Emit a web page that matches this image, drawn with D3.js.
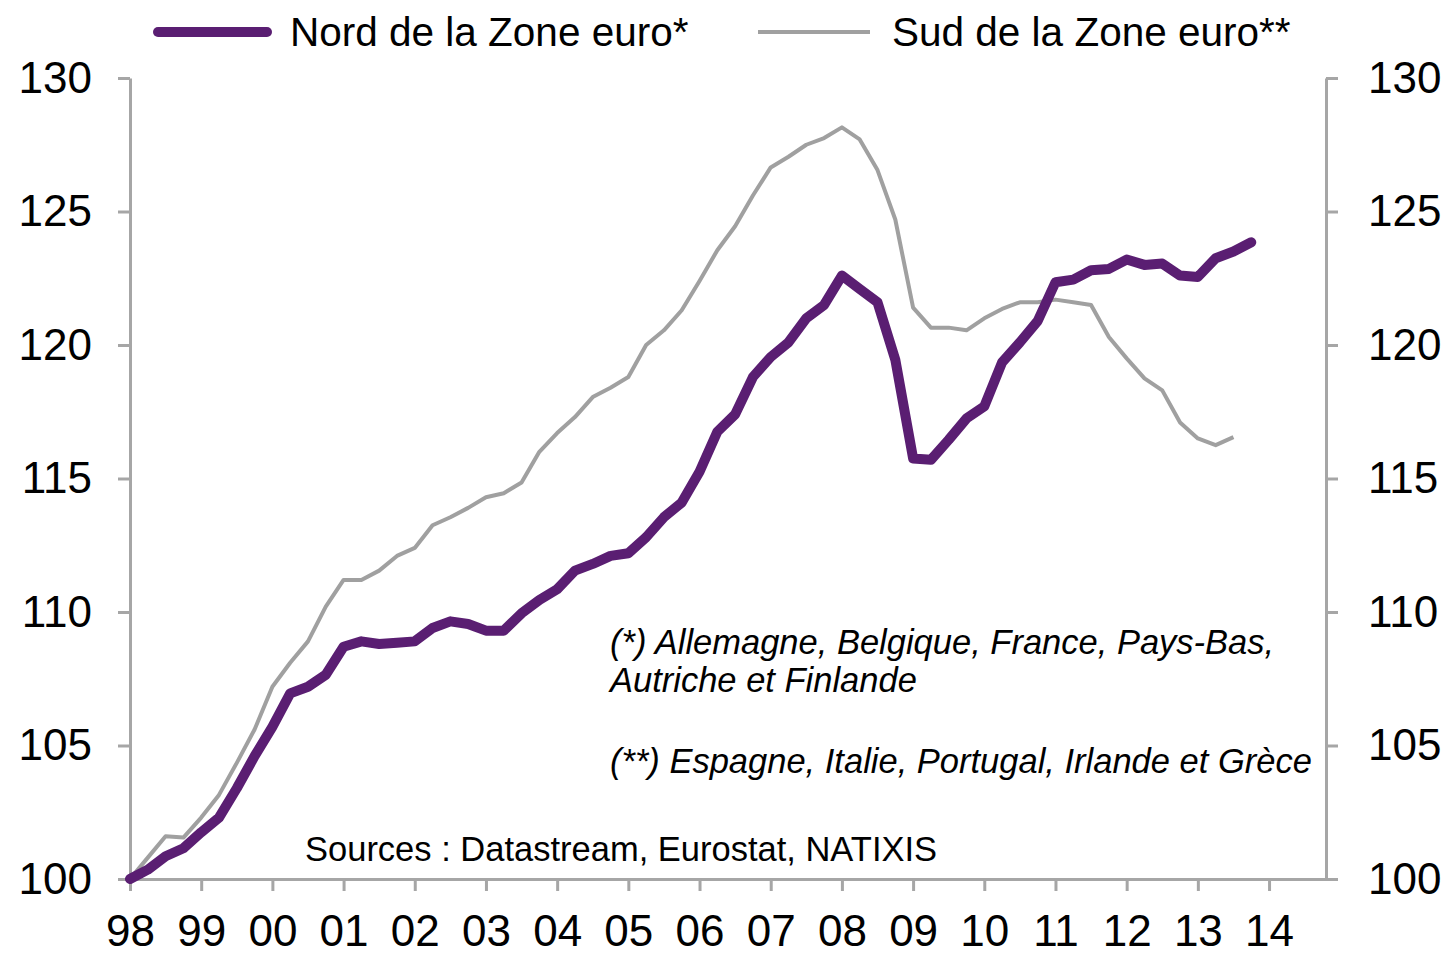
<!DOCTYPE html>
<html>
<head>
<meta charset="utf-8">
<script src="https://cdn.jsdelivr.net/npm/d3@7"></script>
<style>
  body { margin: 0; background: #fff; }
  svg text { font-family: "Liberation Sans", Arial, sans-serif; fill: #000; }
</style>
</head>
<body>
<svg id="chart" width="1448" height="955"></svg>
<script>
const width = 1448;
const height = 955;

// quarterly index, base 100 = 1998 Q1
const startYear = 1998;
const nord = [
  100.0, 100.35, 100.85, 101.15, 101.75, 102.3, 103.4, 104.6,
  105.7, 106.95, 107.2, 107.65, 108.7, 108.9, 108.8, 108.85,
  108.9, 109.4, 109.65, 109.55, 109.3, 109.3, 109.95, 110.45,
  110.85, 111.55, 111.8, 112.1, 112.2, 112.8, 113.55, 114.1,
  115.25, 116.75, 117.4, 118.8, 119.55, 120.1, 121.0, 121.5,
  122.6, 122.1, 121.6, 119.45, 115.75, 115.7, 116.45, 117.25,
  117.7, 119.35, 120.1, 120.9, 122.35, 122.45, 122.8, 122.85,
  123.2, 123.0, 123.05, 122.6, 122.55, 123.25, 123.5, 123.85
];
const sud = [
  100.0, 100.8, 101.6, 101.55, 102.3, 103.15, 104.35, 105.6,
  107.2, 108.1, 108.9, 110.2, 111.2, 111.2, 111.55, 112.1,
  112.4, 113.25, 113.55, 113.9, 114.3, 114.45, 114.85, 116.0,
  116.7, 117.3, 118.05, 118.4, 118.8, 120.0, 120.55, 121.3,
  122.4, 123.55, 124.45, 125.6, 126.65, 127.05, 127.5, 127.75,
  128.15, 127.7, 126.55, 124.7, 121.4, 120.65, 120.65, 120.55,
  121.0, 121.35, 121.6, 121.6, 121.7, 121.6, 121.5, 120.3,
  119.5, 118.75, 118.3, 117.1, 116.5, 116.25, 116.55
];
const yearTicks = d3.range(1998, 2015);
const valueTicks = [100, 105, 110, 115, 120, 125, 130];
const seriesNames = ["Nord de la Zone euro*", "Sud de la Zone euro**"];
const notes = [
  "(*) Allemagne, Belgique, France, Pays-Bas,",
  "Autriche et Finlande",
  "(**) Espagne, Italie, Portugal, Irlande et Grèce"
];
const source = "Sources : Datastream, Eurostat, NATIXIS";

const purple = "#5a1e72";
const grey = "#a0a0a0";
const axisGrey = "#a6a6a6";

const plotLeft = 130, plotRight = 1326, plotTop = 78, plotBottom = 879;

const x = d3.scaleLinear().domain([1998, 2014.8]).range([plotLeft, plotRight]);
const y = d3.scaleLinear().domain([100, 130]).range([plotBottom, plotTop]);

const svg = d3.select("#chart");

function styleAxis(g) {
  g.select(".domain").attr("stroke", axisGrey).attr("stroke-width", 3);
  g.selectAll(".tick line").attr("stroke", axisGrey).attr("stroke-width", 3);
  g.selectAll(".tick text")
    .style("font-family", "'Liberation Sans', Arial, sans-serif")
    .style("font-size", "44px")
    .attr("fill", "#000");
}

// axes
svg.append("g")
  .attr("transform", `translate(${plotLeft},0)`)
  .call(d3.axisLeft(y).tickValues(valueTicks).tickSize(12).tickSizeOuter(0).tickPadding(26))
  .call(styleAxis);

svg.append("g")
  .attr("transform", `translate(${plotRight},0)`)
  .call(d3.axisRight(y).tickValues(valueTicks).tickSize(12).tickSizeOuter(0).tickPadding(30))
  .call(styleAxis);

svg.append("g")
  .attr("transform", `translate(0,${plotBottom})`)
  .call(d3.axisBottom(x).tickValues(yearTicks).tickSize(12).tickSizeOuter(0).tickPadding(24)
    .tickFormat(d => String(d).slice(2)))
  .call(styleAxis);

// lines
const line = d3.line()
  .x((d, i) => x(startYear + i / 4))
  .y(d => y(d));

svg.append("path")
  .datum(sud)
  .attr("fill", "none")
  .attr("stroke", grey)
  .attr("stroke-width", 4)
  .attr("stroke-linejoin", "round")
  .attr("d", line);

svg.append("path")
  .datum(nord)
  .attr("fill", "none")
  .attr("stroke", purple)
  .attr("stroke-width", 10)
  .attr("stroke-linejoin", "round")
  .attr("stroke-linecap", "round")
  .attr("d", line);

// legend
const legend = svg.append("g");
legend.append("line")
  .attr("x1", 158).attr("x2", 267).attr("y1", 32).attr("y2", 32)
  .attr("stroke", purple).attr("stroke-width", 10).attr("stroke-linecap", "round");
legend.append("text")
  .attr("x", 290).attr("y", 46)
  .style("font-size", "40.5px")
  .text(seriesNames[0]);
legend.append("line")
  .attr("x1", 758).attr("x2", 870).attr("y1", 32).attr("y2", 32)
  .attr("stroke", grey).attr("stroke-width", 4);
legend.append("text")
  .attr("x", 892).attr("y", 46)
  .style("font-size", "40.5px")
  .text(seriesNames[1]);

// notes
const noteG = svg.append("g")
  .style("font-size", "34.5px")
  .style("font-style", "italic");
noteG.append("text").attr("x", 610).attr("y", 654).text(notes[0]);
noteG.append("text").attr("x", 610).attr("y", 692).text(notes[1]);
noteG.append("text").attr("x", 610).attr("y", 773).text(notes[2]);

svg.append("text")
  .attr("x", 305).attr("y", 861)
  .style("font-size", "34.5px")
  .text(source);
</script>
</body>
</html>
